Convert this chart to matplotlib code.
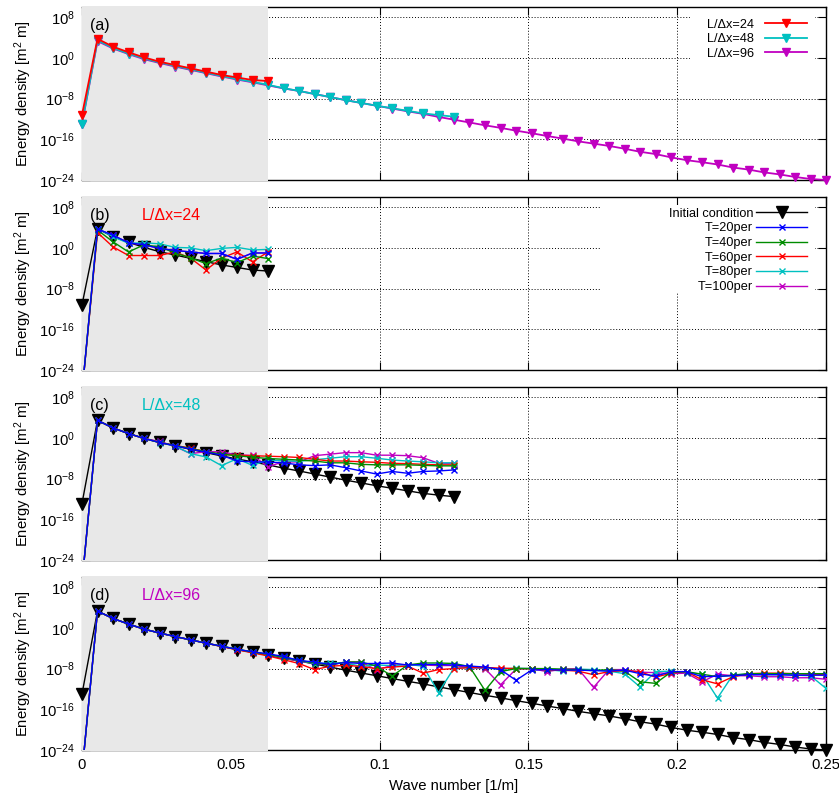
import numpy as np
import matplotlib
matplotlib.use("Agg")
import matplotlib.pyplot as plt
from matplotlib.patches import Rectangle
from matplotlib.ticker import FixedLocator, FixedFormatter, NullLocator
from matplotlib.lines import Line2D

plt.rcParams['font.family'] = ['Liberation Sans', 'DejaVu Sans']
plt.rcParams['mathtext.fontset'] = 'custom'
plt.rcParams['mathtext.rm'] = 'Liberation Sans'
plt.rcParams['mathtext.it'] = 'Liberation Sans:italic'
plt.rcParams['mathtext.bf'] = 'Liberation Sans:bold'
plt.rcParams['mathtext.default'] = 'regular'

# ---------------- data (log10 of energy density) ----------------
dk = 1.0 / 192.0  # wave-number spacing [1/m]

init24 = [-11.2, 3.75, 2.2, 1.1, 0.1, -0.75, -1.4, -2.05, -2.7, -3.35, -3.85, -4.35, -4.55]
init48 = [-12.9, 3.45, 1.95, 0.85, -0.1, -0.9, -1.55, -2.25, -2.9, -3.55, -4.15, -4.7, -5.3,
          -5.95, -6.5, -7.1, -7.7, -8.3, -8.85, -9.4, -9.9, -10.4, -10.9, -11.25, -11.55]
init96 = [-13.0, 3.3, 1.85, 0.75, -0.25, -1.0, -1.7, -2.35, -3.0, -3.65, -4.25, -4.8, -5.4,
          -6.0, -6.5, -7.1, -7.7, -8.3, -8.85, -9.4, -9.95, -10.5, -11.0, -11.6, -12.15,
          -12.7, -13.25, -13.75, -14.3, -14.8, -15.35, -15.85, -16.4, -16.85, -17.3, -17.85,
          -18.45, -18.9, -19.55, -20.1, -20.5, -20.95, -21.55, -21.95, -22.5, -22.9, -23.4,
          -23.8, -24.0]

# panel (b): L/dx = 24
b_T20 = [-28.5, 3.7, 2.5, 1.0, 0.6, -0.1, -0.5, -0.8, -1.1, -1.1, -2.25, -1.0, -1.0]
b_T40 = [-28.5, 3.5, 1.2, -0.8, 0.6, 0.2, -1.0, -1.95, -3.1, -2.0, -2.9, -1.6, -2.1]
b_T60 = [-28.5, 3.0, 0.2, -1.5, -1.5, -1.5, -0.8, -2.0, -4.35, -2.0, -0.8, -2.75, -0.8]
b_T80 = [-28.5, 3.8, 2.2, 0.9, 1.0, 0.8, 0.1, 0.0, -0.55, -0.1, 0.1, -0.4, -0.3]
b_T100 = [-28.5, 3.7, 2.5, 1.0, 0.6, -0.1, -0.5, -0.8, -1.1, -1.1, -2.25, -1.0, -1.0]

# panel (c): L/dx = 48
c_T20 = [-28.5, 3.45, 1.95, 0.85, -0.1, -0.9, -1.55, -2.2, -2.8, -3.4, -4.55, -4.7, -4.75,
         -4.9, -5.3, -5.45, -5.3, -5.85, -6.5, -7.1, -6.6, -6.95, -6.6, -6.5, -6.3]
c_T40 = [-28.5, 3.45, 1.95, 0.85, -0.1, -0.9, -1.5, -2.1, -2.7, -3.2, -3.5, -3.8, -4.05,
         -4.2, -4.35, -4.55, -4.9, -4.9, -5.2, -5.3, -5.3, -5.3, -5.4, -5.5, -5.5]
c_T60 = [-28.5, 3.45, 1.95, 0.85, -0.1, -0.9, -1.5, -2.0, -2.75, -3.25, -3.4, -3.5, -3.6,
         -3.7, -3.85, -4.2, -4.55, -4.55, -4.7, -4.8, -5.0, -5.05, -5.2, -5.3, -5.3]
c_T80 = [-28.5, 3.45, 1.95, 0.85, -0.1, -0.95, -1.6, -3.1, -3.75, -5.45, -4.1, -5.4, -4.35,
         -4.5, -4.6, -4.3, -4.0, -3.7, -3.7, -4.0, -4.35, -4.55, -4.7, -4.9, -4.9]
c_T100 = [-28.5, 3.45, 1.95, 0.85, -0.1, -0.7, -1.65, -3.1, -2.7, -2.75, -3.35, -3.45, -5.65,
          -4.7, -4.75, -3.5, -3.2, -2.9, -2.9, -3.4, -3.4, -3.5, -3.9, -5.0, -5.0]

# panel (d): L/dx = 96
d_T20 = [-28.5, 3.3, 1.85, 0.75, -0.25, -1.0, -1.7, -2.35, -3.0, -3.6, -4.2, -4.7,
         -5.1, -5.6, -6.4, -6.7, -7.2, -6.8, -7.0, -7.0, -6.9, -7.3, -7.2, -7.2, -7.3, -7.5,
         -7.7, -8.2, -10.3, -8.3, -8.2, -8.3, -8.3, -8.4, -8.5, -8.3, -9.0, -9.5, -8.6, -8.6,
         -9.6, -9.5, -9.4, -9.2, -9.2, -9.2, -9.3, -9.3, -9.3]
d_T40 = [-28.5, 3.3, 1.85, 0.75, -0.25, -1.0, -1.7, -2.35, -3.0, -3.6, -4.2, -4.75,
         -5.2, -5.8, -6.4, -6.9, -7.3, -6.7, -6.7, -7.5, -9.5, -7.3, -6.9, -6.9, -7.0, -7.6,
         -12.3, -8.6, -8.0, -8.0, -8.0, -8.1, -8.2, -8.4, -8.2, -8.5, -10.6, -10.9, -8.7, -8.6,
         -9.1, -9.6, -9.3, -9.0, -9.0, -9.0, -9.0, -9.0, -9.0]
d_T60 = [-28.5, 3.3, 1.85, 0.75, -0.25, -1.0, -1.7, -2.35, -3.0, -3.65, -4.3, -4.9,
         -5.5, -6.25, -7.0, -8.2, -7.55, -7.35, -7.6, -8.0, -7.7, -7.5, -8.9, -8.2, -8.0, -7.8,
         -7.8, -7.9, -8.0, -8.0, -8.3, -8.3, -8.5, -9.2, -8.6, -8.4, -8.6, -9.7, -8.9, -8.6,
         -10.2, -11.0, -9.6, -9.0, -8.9, -8.9, -9.0, -9.1, -9.2]
d_T80 = [-28.5, 3.3, 1.85, 0.75, -0.25, -1.0, -1.7, -2.35, -3.0, -3.6, -4.2, -4.75,
         -5.2, -5.8, -6.4, -7.0, -6.9, -6.9, -7.55, -7.3, -7.4, -7.2, -7.5, -12.7, -7.9, -7.8,
         -7.9, -8.1, -7.9, -8.0, -8.2, -8.5, -8.1, -8.2, -8.5, -9.0, -11.6, -8.6, -8.5, -8.8,
         -9.1, -13.8, -9.2, -9.1, -9.2, -9.2, -9.3, -9.4, -11.9]
d_T100 = [-28.5, 3.3, 1.85, 0.75, -0.25, -1.0, -1.7, -2.35, -3.0, -3.6, -4.25, -4.8,
          -5.3, -5.9, -6.5, -7.0, -7.3, -6.7, -6.7, -8.3, -7.35, -7.2, -7.3, -7.4, -7.4, -7.8,
          -8.0, -11.2, -8.1, -8.0, -8.6, -8.1, -8.0, -11.7, -8.2, -8.2, -8.7, -8.8, -9.0, -8.9,
          -10.6, -9.1, -9.4, -9.4, -9.6, -9.6, -9.8, -9.8, -10.1]

res_labels = ['L/\u0394x=24', 'L/\u0394x=48', 'L/\u0394x=96']
t_labels = ['T=20per', 'T=40per', 'T=60per', 'T=80per', 'T=100per']
panel_tags = ['(a)', '(b)', '(c)', '(d)']

xticks = [0, 0.05, 0.1, 0.15, 0.2, 0.25]
xticklabels = ['0', '0.05', '0.1', '0.15', '0.2', '0.25']
yticks = [1e-24, 1e-16, 1e-8, 1e0, 1e8]
yticklabels = ['$10^{-24}$', '$10^{-16}$', '$10^{-8}$', '$10^{0}$', '$10^{8}$']

# ---------------- styling ----------------
C_RED = '#ff0000'
C_CYAN = '#00c0c0'
C_MAG = '#c000c0'
C_BLUE = '#0000ff'
C_GREEN = '#008c00'
res_colors = [C_RED, C_CYAN, C_MAG]
t_colors = [C_BLUE, C_GREEN, C_RED, C_CYAN, C_MAG]

FS = 10.7
FS_LEG = 9.2
FS_TAG = 11.5


def E(vals):
    return 10.0 ** np.asarray(vals, dtype=float)


def kgrid(vals):
    return np.arange(len(vals)) * dk


fig = plt.figure(figsize=(8.39, 7.98), dpi=100)
L, W, H = 82 / 839, 744 / 839, 173 / 798
tops = [7, 197, 387, 577]
axes = []
for t in tops:
    axes.append(fig.add_axes([L, 1 - (t + 173) / 798, W, H]))


def style(ax, bottom_labels):
    ax.set_xlim(0, 0.25)
    ax.set_yscale('log')
    ax.set_ylim(1e-24, 1e10)
    ax.yaxis.set_major_locator(FixedLocator(yticks))
    ax.yaxis.set_major_formatter(FixedFormatter(yticklabels))
    ax.yaxis.set_minor_locator(NullLocator())
    ax.set_xticks(xticks)
    if bottom_labels:
        ax.set_xticklabels(xticklabels)
    else:
        ax.set_xticklabels([])
    ax.tick_params(axis='both', which='major', direction='in', length=6, width=0.8,
                   top=True, right=True, left=True, bottom=True, labelsize=FS, colors='black')
    ax.tick_params(axis='y', pad=5)
    ax.tick_params(axis='x', pad=5.5)
    ax.grid(True, which='major', color='black', linestyle=(0, (1, 2)), linewidth=0.7)
    for s in ax.spines.values():
        s.set_linewidth(1.0)
        s.set_color('black')
    ax.spines['left'].set_color('#bbbbbb')
    ax.axvspan(0, 0.0625, ymin=-0.005, ymax=1.005, facecolor='#e8e8e8', edgecolor='none',
               zorder=2.6, clip_on=False)
    ax.set_ylabel('Energy density [m$^{2}$ m]', fontsize=FS)
    ax.yaxis.set_label_coords(-0.0645, 0.5)


for i, ax in enumerate(axes):
    style(ax, i == 3)
    ax.text(0.011, 0.895, panel_tags[i], transform=ax.transAxes, ha='left', va='center',
            fontsize=FS_TAG, zorder=6)

axes[3].set_xlabel('Wave number [1/m]', fontsize=FS)
axes[3].xaxis.set_label_coords(0.5, -0.165)

# ---------------- panel (a) ----------------
ax = axes[0]
ax.add_patch(Rectangle((0.817, 0.682), 0.168, 0.272, transform=ax.transAxes,
                       facecolor='white', edgecolor='none', zorder=2.8))
handles = []
series_a = [init24, init48, init96]
for vals, col, lab, z in zip(series_a[::-1], res_colors[::-1], res_labels[::-1], [3, 4, 5]):
    ln, = ax.plot(kgrid(vals), E(vals), color=col, lw=1.3, marker='v', ms=6, mec=col,
                  mfc=col, zorder=z, clip_on=False, label=lab)
    handles.append(ln)
handles = handles[::-1]
ax.legend(handles=handles, loc='upper right', bbox_to_anchor=(0.975, 0.932),
          frameon=False, markerfirst=False, fontsize=FS_LEG, handlelength=3.3,
          handletextpad=0.85, labelspacing=0.19, borderpad=0, borderaxespad=0)

# ---------------- panels (b)-(d) ----------------
panel_data = [
    (init24, [b_T20, b_T40, b_T60, b_T80, b_T100]),
    (init48, [c_T20, c_T40, c_T60, c_T80, c_T100]),
    (init96, [d_T20, d_T40, d_T60, d_T80, d_T100]),
]
for j, (init, tser) in enumerate(panel_data):
    ax = axes[j + 1]
    ax.plot(kgrid(init), E(init), color='black', lw=1.0, zorder=3)
    ax.plot(kgrid(init), E(init), ls='none', marker='v', ms=8, color='black',
            zorder=3.1, clip_on=False)
    order = [4, 3, 2, 1, 0]
    for zi, idx in enumerate(order):
        vals = tser[idx]
        ax.plot(kgrid(vals), E(vals), color=t_colors[idx], lw=1.0, marker='x', ms=4.5,
                mew=1.0, zorder=4 + zi * 0.1)
    ax.text(0.0806, 0.895, res_labels[j], transform=ax.transAxes, ha='left', va='center',
            fontsize=FS_TAG, color=res_colors[j], zorder=6)

# legend in (b)
ax = axes[1]
ax.add_patch(Rectangle((0.696, 0.445), 0.289, 0.509, transform=ax.transAxes,
                       facecolor='white', edgecolor='none', zorder=2.8))
leg_handles = [Line2D([], [], color='black', lw=1.0, marker='v', ms=8)]
for c in t_colors:
    leg_handles.append(Line2D([], [], color=c, lw=1.0, marker='x', ms=4.5, mew=1.0))
ax.legend(handles=leg_handles, labels=['Initial condition'] + t_labels, loc='upper right',
          bbox_to_anchor=(0.975, 0.938), frameon=False, markerfirst=False, fontsize=FS_LEG,
          handlelength=4.0, handletextpad=0.25, labelspacing=0.21, borderpad=0,
          borderaxespad=0)

fig.savefig('out.png', dpi=100)
